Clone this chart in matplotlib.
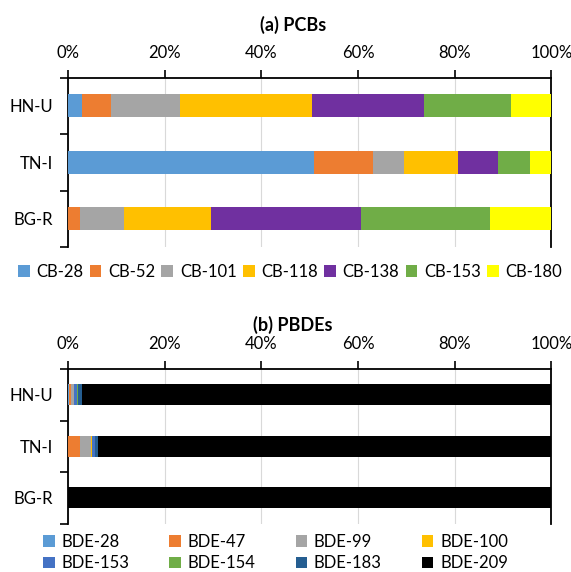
import matplotlib
matplotlib.use("Agg")
import matplotlib.pyplot as plt
import numpy as np
from matplotlib.patches import Patch

plt.rcParams['font.family'] = ['Lato', 'DejaVu Sans']

sites = ["HN-U", "TN-I", "BG-R"]

pcb_names = ["CB-28", "CB-52", "CB-101", "CB-118", "CB-138", "CB-153", "CB-180"]
pcb_colors = ["#5B9BD5", "#ED7D31", "#A5A5A5", "#FFC000", "#7030A0", "#70AD47", "#FFFF00"]
pcb_values = {
    "CB-28":  [3.0, 50.8, 0.0],
    "CB-52":  [5.9, 12.3, 2.5],
    "CB-101": [14.3, 6.5, 9.0],
    "CB-118": [27.2, 11.1, 18.0],
    "CB-138": [23.3, 8.3, 31.2],
    "CB-153": [17.9, 6.6, 26.7],
    "CB-180": [8.4, 4.4, 12.6],
}

pbde_names = ["BDE-28", "BDE-47", "BDE-99", "BDE-100", "BDE-153", "BDE-154", "BDE-183", "BDE-209"]
pbde_colors = ["#5B9BD5", "#ED7D31", "#A5A5A5", "#FFC000", "#4472C4", "#70AD47", "#255E91", "#000000"]
pbde_values = {
    "BDE-28":  [0.2, 0.0, 0.0],
    "BDE-47":  [0.4, 2.4, 0.0],
    "BDE-99":  [0.6, 2.4, 0.0],
    "BDE-100": [0.1, 0.1, 0.0],
    "BDE-153": [0.6, 0.6, 0.0],
    "BDE-154": [0.1, 0.1, 0.0],
    "BDE-183": [0.9, 0.7, 0.0],
    "BDE-209": [97.1, 93.7, 100.0],
}

x_ticks = [0, 20, 40, 60, 80, 100]
x_ticklabels = ["0%", "20%", "40%", "60%", "80%", "100%"]

W, H = 571, 572
fig = plt.figure(figsize=(W / 100, H / 100), dpi=100)

def fx(px):
    return px / W

def fy(py):
    return 1 - py / H

ax_a = fig.add_axes([fx(68), fy(247), fx(551.3 - 68), (247 - 77.7) / H])
ax_b = fig.add_axes([fx(68), fy(523.5), fx(551.3 - 68), (523.5 - 369) / H])


def draw(ax, names, colors, values):
    y = np.arange(len(sites))
    left = np.zeros(len(sites))
    for n, c in zip(names, colors):
        v = np.array(values[n], dtype=float)
        ax.barh(y, v, left=left, height=0.41, color=c, edgecolor="none", zorder=3)
        left += v
    ax.set_xlim(0, 100)
    ax.set_ylim(len(sites) - 0.5, -0.5)
    ax.set_yticks(y)
    ax.set_yticklabels(sites, fontsize=12)
    ax.set_yticks(np.arange(len(sites) + 1) - 0.5, minor=True)
    ax.tick_params(axis="y", which="major", length=0, pad=11)
    ax.tick_params(axis="y", which="minor", length=6, width=1.2, direction="out", color="black")
    ax.xaxis.tick_top()
    ax.set_xticks(x_ticks)
    ax.set_xticklabels(x_ticklabels, fontsize=12)
    ax.tick_params(axis="x", which="major", length=6, width=1.2, direction="out", pad=6, color="black")
    ax.grid(axis="x", color="#D9D9D9", linewidth=0.8, zorder=0)
    for s in ["top", "left", "right"]:
        ax.spines[s].set_color("black")
        ax.spines[s].set_linewidth(1.3)
    ax.spines["bottom"].set_visible(False)


draw(ax_a, pcb_names, pcb_colors, pcb_values)
draw(ax_b, pbde_names, pbde_colors, pbde_values)

fig.text(fx(293), fy(25), "(a) PCBs", ha="center", va="center", fontsize=13, fontweight="bold")
fig.text(fx(293), fy(325), "(b) PBDEs", ha="center", va="center", fontsize=13, fontweight="bold")

handles_a = [Patch(facecolor=c, edgecolor="none") for c in pcb_colors]
fig.legend(handles_a, pcb_names, loc="center", ncol=7, frameon=False, fontsize=12,
           bbox_to_anchor=(fx(18), fy(272), fx(562 - 18), 0), mode="expand",
           handlelength=0.7, handleheight=0.7, handletextpad=0.4, borderaxespad=0, borderpad=0)

handles_b = [Patch(facecolor=c, edgecolor="none") for c in pbde_colors]
# matplotlib fills legend column-major; reorder so rows read left to right
order = [0, 4, 1, 5, 2, 6, 3, 7]
fig.legend([handles_b[i] for i in order], [pbde_names[i] for i in order], loc="center", ncol=4,
           frameon=False, fontsize=12, bbox_to_anchor=(fx(43), fy(552.5), fx(508 - 43), 0), mode="expand",
           handlelength=0.7, handleheight=0.7, handletextpad=0.4, borderaxespad=0, borderpad=0,
           labelspacing=0.35)

fig.savefig("out.png", dpi=100)
